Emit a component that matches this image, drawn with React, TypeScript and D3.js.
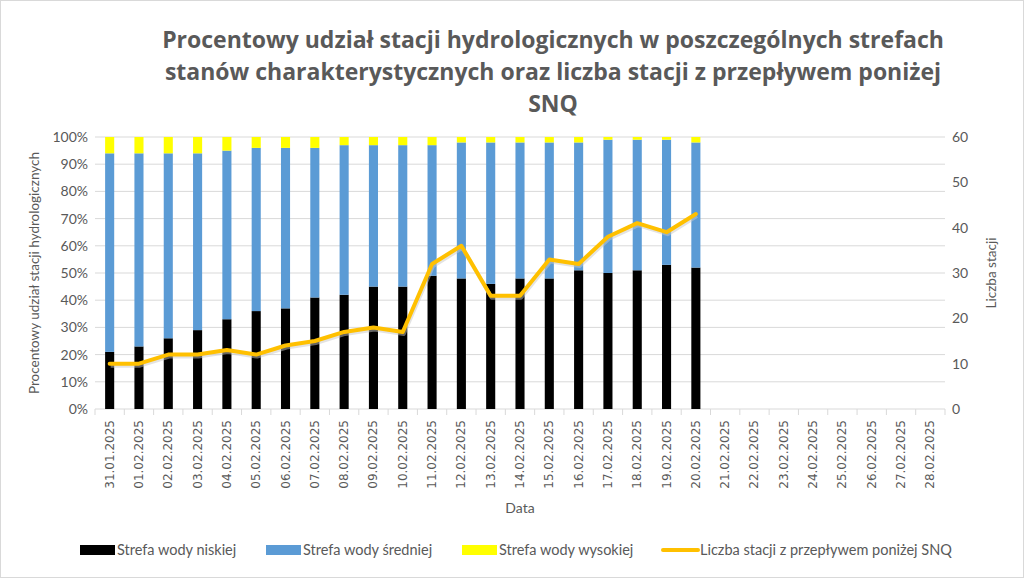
import React from "react";
import * as d3 from "d3";

const categories = [
  "31.01.2025", "01.02.2025", "02.02.2025", "03.02.2025", "04.02.2025", "05.02.2025",
  "06.02.2025", "07.02.2025", "08.02.2025", "09.02.2025", "10.02.2025", "11.02.2025",
  "12.02.2025", "13.02.2025", "14.02.2025", "15.02.2025", "16.02.2025", "17.02.2025",
  "18.02.2025", "19.02.2025", "20.02.2025", "21.02.2025", "22.02.2025", "23.02.2025",
  "24.02.2025", "25.02.2025", "26.02.2025", "27.02.2025", "28.02.2025",
];

// percentage of stations (only first 21 dates have data)
const lowZone = [21, 23, 26, 29, 33, 36, 37, 41, 42, 45, 45, 49, 48, 46, 48, 48, 51, 50, 51, 53, 52];
const midZone = [73, 71, 68, 65, 62, 60, 59, 55, 55, 52, 52, 48, 50, 52, 50, 50, 47, 49, 48, 46, 46];
const highZone = [6, 6, 6, 6, 5, 4, 4, 4, 3, 3, 3, 3, 2, 2, 2, 2, 2, 1, 1, 1, 2];
const belowSNQ = [10, 10, 12, 12, 13, 12, 14, 15, 17, 18, 17, 32, 36, 25, 25, 33, 32, 38, 41, 39, 43];

const leftTicks = [0, 10, 20, 30, 40, 50, 60, 70, 80, 90, 100];
const rightTicks = [0, 10, 20, 30, 40, 50, 60];

const seriesNames = ["Strefa wody niskiej", "Strefa wody średniej", "Strefa wody wysokiej"];
const seriesColors = ["#000000", "#5B9BD5", "#FFFF00"];
const lineName = "Liczba stacji z przepływem poniżej SNQ";
const lineColor = "#FFC000";

const W = 1024, H = 578;
const M = { left: 95, right: 945, top: 137, bottom: 409 };
const FONT = "Lato, 'Open Sans', sans-serif";
const TXT = "#595959";

export default function App() {
  const x = d3.scaleBand<string>().domain(categories).range([M.left, M.right]).paddingInner(0.69).paddingOuter(0.345);
  const xOuter = d3.scaleBand<string>().domain(categories).range([M.left, M.right]);
  const yL = d3.scaleLinear().domain([0, 100]).range([M.bottom, M.top]);
  const yR = d3.scaleLinear().domain([0, 60]).range([M.bottom, M.top]);

  const stackData = lowZone.map((v, i) => ({ cat: categories[i], low: v, mid: midZone[i], high: highZone[i] }));
  const stack = d3.stack<any>().keys(["low", "mid", "high"])(stackData);

  const line = d3.line<number>()
    .x((_, i) => (xOuter(categories[i]) as number) + xOuter.bandwidth() / 2)
    .y((d) => yR(d));

  const legendItems = [
    { name: seriesNames[0], color: seriesColors[0], x: 80, type: "rect" },
    { name: seriesNames[1], color: seriesColors[1], x: 266, type: "rect" },
    { name: seriesNames[2], color: seriesColors[2], x: 462, type: "rect" },
    { name: lineName, color: lineColor, x: 663, type: "line" },
  ];

  const titleLines = [
    "Procentowy udział stacji hydrologicznych w poszczególnych strefach",
    "stanów charakterystycznych oraz liczba stacji z przepływem poniżej",
    "SNQ",
  ];

  return (
    <svg width={W} height={H} style={{ position: "absolute", left: 0, top: 0, background: "#fff" }} fontFamily={FONT}>
      <rect x={0.5} y={0.5} width={W - 1} height={H - 1} fill="#fff" stroke="#d9d9d9" />
      {titleLines.map((t, i) => (
        <text key={i} x={553} y={48 + i * 32} textAnchor="middle" fontSize={23} fontWeight="bold" fontFamily="'Open Sans', Lato, sans-serif" fill={TXT}>{t}</text>
      ))}
      {/* gridlines */}
      {leftTicks.map((t) => (
        <line key={t} x1={M.left} x2={M.right} y1={yL(t)} y2={yL(t)} stroke="#d9d9d9" strokeWidth={1} />
      ))}
      {/* x tick marks */}
      {categories.map((c) => (
        <line key={c} x1={(xOuter(c) as number)} x2={(xOuter(c) as number)} y1={M.bottom} y2={M.bottom + 6} stroke="#d9d9d9" />
      ))}
      <line x1={M.right} x2={M.right} y1={M.bottom} y2={M.bottom + 6} stroke="#d9d9d9" />
      {/* bars */}
      {stack.map((s, si) => (
        <g key={si} fill={seriesColors[si]}>
          {s.map((d: any, i: number) => (
            <rect key={i} x={x(d.data.cat) as number} width={x.bandwidth()} y={yL(d[1])} height={yL(d[0]) - yL(d[1])} />
          ))}
        </g>
      ))}
      {/* line */}
      <path d={line(belowSNQ) || ""} fill="none" stroke="#c8c8c8" strokeOpacity={0.5} strokeWidth={4} strokeLinejoin="round" transform="translate(1,2)" />
      <path d={line(belowSNQ) || ""} fill="none" stroke={lineColor} strokeWidth={4} strokeLinejoin="round" strokeLinecap="round" />
      {/* left axis labels */}
      {leftTicks.map((t) => (
        <text key={t} x={88} y={yL(t) + 5} textAnchor="end" fontSize={14} fill={TXT}>{t + "%"}</text>
      ))}
      {/* right axis labels */}
      {rightTicks.map((t) => (
        <text key={t} x={952} y={yR(t) + 5} textAnchor="start" fontSize={14} fill={TXT}>{t}</text>
      ))}
      {/* x labels */}
      {categories.map((c) => {
        const cx = (xOuter(c) as number) + xOuter.bandwidth() / 2;
        return (
          <text key={c} transform={`translate(${cx + 4},420) rotate(-90)`} textAnchor="end" fontSize={12} fontFamily="'DejaVu Sans', sans-serif" fill={TXT}>{c}</text>
        );
      })}
      <text x={520} y={513} textAnchor="middle" fontSize={14} fill={TXT}>Data</text>
      <text transform={`translate(39,${(M.top + M.bottom) / 2}) rotate(-90)`} textAnchor="middle" fontSize={13.5} fill={TXT}>Procentowy udział stacji hydrologicznych</text>
      <text transform={`translate(996,${(M.top + M.bottom) / 2}) rotate(-90)`} textAnchor="middle" fontSize={13.5} fill={TXT}>Liczba stacji</text>
      {/* legend */}
      {legendItems.map((l) => (
        <g key={l.name}>
          {l.type === "rect" ? (
            <rect x={l.x} y={545} width={35} height={10} fill={l.color} />
          ) : (
            <line x1={l.x} x2={l.x + 35} y1={550} y2={550} stroke={l.color} strokeWidth={4} strokeLinecap="round" />
          )}
          <text x={l.x + 37} y={555} fontSize={14.5} fill={TXT}>{l.name}</text>
        </g>
      ))}
    </svg>
  );
}
